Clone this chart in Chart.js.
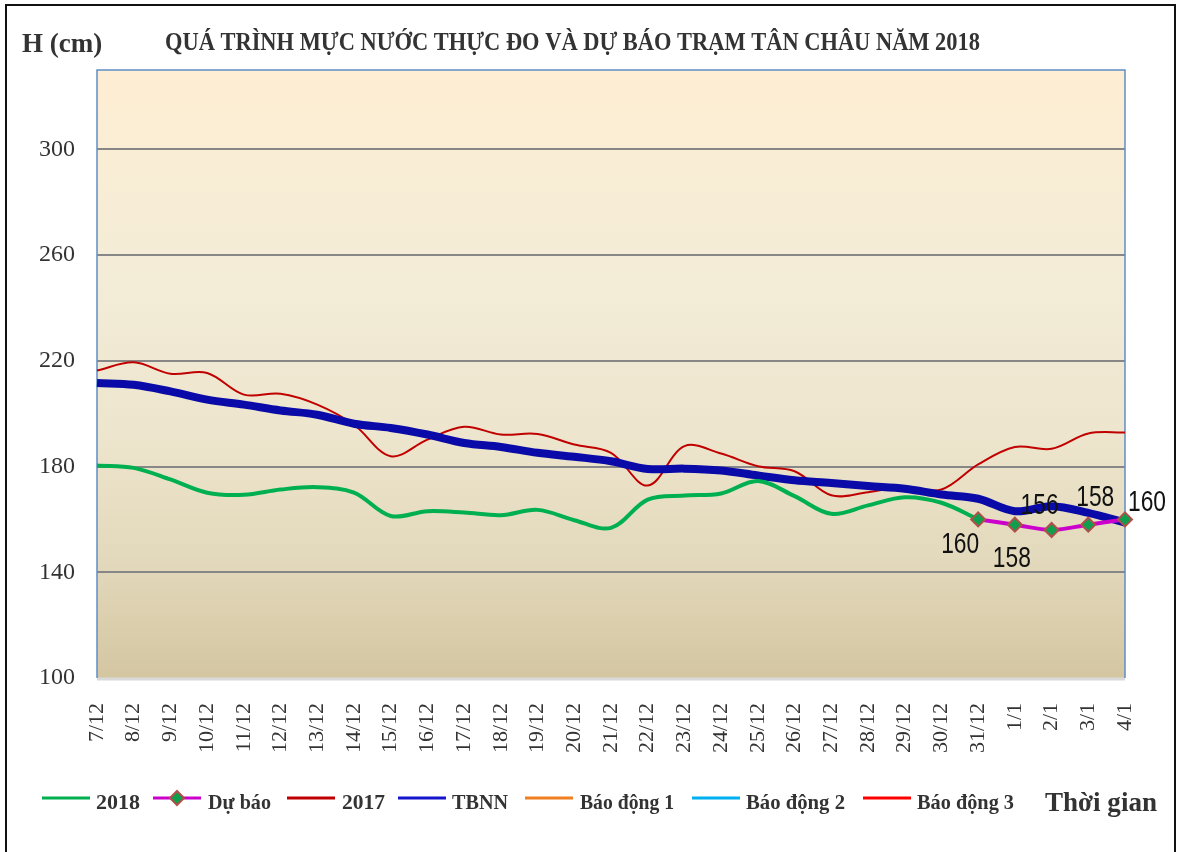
<!DOCTYPE html>
<html>
<head>
<meta charset="utf-8">
<script src="https://cdn.jsdelivr.net/npm/chart.js@4/dist/chart.umd.min.js"></script>
<style>
html,body{margin:0;padding:0;background:#fff;}
canvas{display:block;}
</style>
</head>
<body>
<canvas id="c" width="1181" height="852"></canvas>
<script>
// ---- data ----
const categories = ["7/12","8/12","9/12","10/12","11/12","12/12","13/12","14/12","15/12","16/12","17/12","18/12","19/12","20/12","21/12","22/12","23/12","24/12","25/12","26/12","27/12","28/12","29/12","30/12","31/12","1/1","2/1","3/1","4/1"];
const yTickValues = [100,140,180,220,260,300];
const level2018 = [180.4,179.5,175.1,170.1,169.3,171.3,172.2,170.1,161.3,163.1,162.6,161.6,163.6,159.7,156.8,167.5,169.0,169.8,174.5,168.8,162.1,165.3,168.4,166.3,160,null,null,null,null];
const forecast = [null,null,null,null,null,null,null,null,null,null,null,null,null,null,null,null,null,null,null,null,null,null,null,null,160,158,156,158,160];
const level2017 = [216.3,219.4,215.1,215.4,207.2,207.5,203.4,195.8,183.9,190.2,195.0,192.1,192.3,188.3,185.2,172.8,187.7,184.9,180.1,178.2,169.1,170.3,172.3,171.3,180.8,187.4,186.7,192.5,192.9];
const tbnn = [211.6,210.9,208.4,205.3,203.4,201.2,199.6,196.2,194.6,192.1,188.9,187.4,185.2,183.7,182.0,179.1,179.2,178.5,176.6,174.8,173.8,172.6,171.6,169.4,167.8,163.1,165.0,162.5,158.8];
const alarm1 = [];
const alarm2 = [];
const alarm3 = [];
const seriesNames = ["2018","Dự báo","2017","TBNN","Báo động 1","Báo động 2","Báo động 3"];
const titleText = "QUÁ TRÌNH MỰC NƯỚC THỰC ĐO VÀ DỰ BÁO TRẠM TÂN CHÂU NĂM 2018";
const yTitle = "H (cm)";
const xTitle = "Thời gian";

// ---- layout / style constants ----
const PLOT = {left:97, top:70, right:1125, bottom:678};
const SERIF = "'Liberation Serif','Times New Roman',serif";
const SANS = "'Liberation Sans',Arial,sans-serif";
const legendLayout = [
  {lineX:42, textX:96, w:44},
  {lineX:153, textX:208, w:63},
  {lineX:287, textX:342, w:43},
  {lineX:398, textX:452, w:56},
  {lineX:525, textX:580, w:94},
  {lineX:692, textX:746, w:99},
  {lineX:863, textX:917, w:97}
];
const labelOffsets = {24:[-18,24],25:[-3,32],26:[-12,-26],27:[7,-29],28:[22,-18]};

const deco = {
  id:'deco',
  beforeDraw(chart){
    const ctx = chart.ctx, a = chart.chartArea;
    ctx.save();
    ctx.fillStyle = '#fff';
    ctx.fillRect(0,0,chart.width,chart.height);
    const g = ctx.createLinearGradient(0,a.top,0,a.bottom);
    g.addColorStop(0,'#FEEED3');
    g.addColorStop(0.35,'#F3ECD7');
    g.addColorStop(0.6,'#EDE5CD');
    g.addColorStop(0.8,'#E3D9BC');
    g.addColorStop(1,'#D4C6A1');
    ctx.fillStyle = g;
    ctx.fillRect(a.left,a.top,a.right-a.left,a.bottom-a.top);
    ctx.restore();
  },
  beforeDatasetsDraw(chart){
    const ctx = chart.ctx, a = chart.chartArea;
    ctx.save();
    ctx.strokeStyle = '#D9D9D9';
    ctx.lineWidth = 3;
    ctx.beginPath(); ctx.moveTo(a.left,a.bottom+1); ctx.lineTo(a.right,a.bottom+1); ctx.stroke();
    ctx.strokeStyle = '#5F8DC8';
    ctx.lineWidth = 1.5;
    ctx.beginPath();
    ctx.moveTo(a.left,a.bottom); ctx.lineTo(a.left,a.top); ctx.lineTo(a.right,a.top); ctx.lineTo(a.right,a.bottom);
    ctx.stroke();
    ctx.restore();
  },
  afterDatasetsDraw(chart){
    const ctx = chart.ctx;
    const meta = chart.getDatasetMeta(1);
    ctx.save();
    ctx.fillStyle = '#111';
    ctx.font = "29px " + SANS;
    ctx.textAlign = 'center';
    ctx.textBaseline = 'middle';
    meta.data.forEach((pt,i)=>{
      const v = forecast[i];
      if (v === null || v === undefined) return;
      const off = labelOffsets[i] || [0,-20];
      ctx.fillText(String(v), pt.x+off[0], pt.y+off[1]+2, 38);
    });
    ctx.restore();
  },
  afterDraw(chart){
    const ctx = chart.ctx;
    ctx.save();
    // outer frame
    ctx.strokeStyle = '#111';
    ctx.lineWidth = 2;
    ctx.beginPath();
    ctx.moveTo(6,860); ctx.lineTo(6,5); ctx.lineTo(1175,5); ctx.lineTo(1175,860);
    ctx.stroke();
    // titles
    ctx.fillStyle = '#333';
    ctx.textBaseline = 'alphabetic';
    ctx.textAlign = 'left';
    ctx.font = "bold 27px " + SERIF;
    ctx.fillText(yTitle, 22, 52, 81);
    ctx.font = "bold 25px " + SERIF;
    ctx.fillText(titleText, 165, 50, 815);
    // legend
    const ds = chart.data.datasets;
    ctx.font = "bold 22px " + SERIF;
    legendLayout.forEach((L,i)=>{
      const d = ds[i];
      const y = 798;
      ctx.strokeStyle = d.legendColor || d.borderColor;
      ctx.lineWidth = 3;
      ctx.beginPath(); ctx.moveTo(L.lineX,y); ctx.lineTo(L.lineX+48,y); ctx.stroke();
      if (d.pointRadius && d.pointRadius > 0) {
        const cx = L.lineX+24, r = 7;
        ctx.beginPath();
        ctx.moveTo(cx, y-r); ctx.lineTo(cx+r, y); ctx.lineTo(cx, y+r); ctx.lineTo(cx-r, y); ctx.closePath();
        ctx.fillStyle = d.pointBackgroundColor; ctx.fill();
        ctx.lineWidth = 2; ctx.strokeStyle = d.pointBorderColor; ctx.stroke();
      }
      ctx.fillStyle = '#333';
      ctx.fillText(d.label, L.textX, 809, L.w);
    });
    ctx.font = "bold 28px " + SERIF;
    ctx.fillText(xTitle, 1045, 811, 112);
    ctx.restore();
  }
};

const lineBase = {fill:false, tension:0.35, pointRadius:0, pointHoverRadius:0, spanGaps:false};

new Chart(document.getElementById('c'), {
  type:'line',
  data:{
    labels: categories,
    datasets:[
      Object.assign({}, lineBase, {label:seriesNames[0], data:level2018, borderColor:'#00B050', borderWidth:4, order:1}),
      Object.assign({}, lineBase, {label:seriesNames[1], data:forecast, borderColor:'#CC00CC', borderWidth:4, order:0,
        pointRadius:7, pointStyle:'rectRot', pointBackgroundColor:'#0E9F4E', pointBorderColor:'#B0504A', pointBorderWidth:2}),
      Object.assign({}, lineBase, {label:seriesNames[2], data:level2017, borderColor:'#C00000', borderWidth:2, order:3}),
      Object.assign({}, lineBase, {label:seriesNames[3], data:tbnn, borderColor:'#0A0AA8', legendColor:'#1515CC', borderWidth:8, order:2}),
      Object.assign({}, lineBase, {label:seriesNames[4], data:alarm1, borderColor:'#F07F22', borderWidth:3, order:4}),
      Object.assign({}, lineBase, {label:seriesNames[5], data:alarm2, borderColor:'#00B0F0', borderWidth:3, order:5}),
      Object.assign({}, lineBase, {label:seriesNames[6], data:alarm3, borderColor:'#FF0000', borderWidth:3, order:6})
    ]
  },
  options:{
    responsive:false,
    animation:false,
    devicePixelRatio:1,
    layout:{padding:{top:PLOT.top, right:1181-PLOT.right, left:0, bottom:0}},
    plugins:{legend:{display:false}, title:{display:false}, tooltip:{enabled:false}},
    scales:{
      x:{
        type:'category',
        offset:false,
        grid:{display:false, drawTicks:false},
        border:{display:false},
        ticks:{autoSkip:false, maxRotation:90, minRotation:90, padding:25, color:'#333',
          font:{family:SERIF, size:22}},
        afterFit(s){ s.height = 852 - PLOT.bottom; }
      },
      y:{
        min:100, max:330,
        grid:{drawTicks:false, lineWidth:2, color:(c)=> (c.tick && c.tick.value===100) ? 'rgba(0,0,0,0)' : '#878787'},
        border:{display:false},
        afterBuildTicks(s){ s.ticks = yTickValues.map(v=>({value:v})); },
        ticks:{padding:22, color:'#333', font:{family:SERIF, size:24}},
        afterFit(s){ s.width = PLOT.left; }
      }
    }
  },
  plugins:[deco]
});
</script>
</body>
</html>
